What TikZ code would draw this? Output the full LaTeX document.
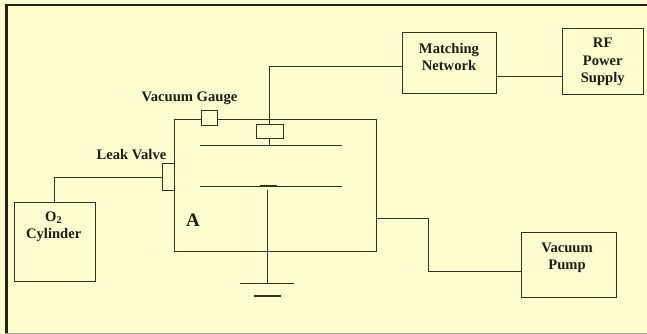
\documentclass[tikz,border=0pt]{standalone}
\usepackage{fontspec}
\setmainfont{Liberation Serif}
\definecolor{paper}{HTML}{FFFDD0}
\definecolor{ink}{HTML}{35331F}
\definecolor{textc}{HTML}{1E1D12}
\definecolor{framec}{HTML}{222218}
\tikzset{
 unit/.style={draw=ink,line width=1pt,inner sep=0pt,anchor=north west},
 wire/.style={draw=ink,line width=0.9pt},
 plate/.style={draw=ink,line width=0.9pt},
 lbl/.style={text=textc,font=\bfseries\fontsize{14.6}{17.4}\selectfont,align=center,inner sep=0pt},
}
\newcommand{\boxat}[5]{\node[unit,minimum width=#4pt,minimum height=#5pt] (#1) at (#2,#3) {};}
\begin{document}
\begin{tikzpicture}[x=1pt,y=-1pt]
\useasboundingbox (0,0) rectangle (647,334);
\fill[paper] (0,0) rectangle (647,334);
% frame
\fill[framec] (5,4) rectangle (647,6.5);
\fill[framec] (5,4) rectangle (7.5,334);
\fill[gray!70!paper] (5,332.6) rectangle (647,334);
% boxes
\boxat{chamber}{174}{119}{202}{132}
\boxat{gauge}{201}{111}{15}{13.5}
\boxat{elec}{256}{124}{27}{14}
\boxat{valve}{162}{163}{12}{27}
\boxat{cyl}{14}{202}{81}{79}
\boxat{match}{402}{32}{94}{61}
\boxat{rf}{562}{28}{81}{66}
\boxat{pump}{521}{232}{95}{65}
\fill[paper] (gauge.north west) rectangle (gauge.south east);
\draw[unit] (gauge.north west) rectangle (gauge.south east);
% plates and coordinates
\coordinate (upL) at (200,145); \coordinate (upR) at (342,145);
\coordinate (loL) at (200,186); \coordinate (loR) at (342,186);
\coordinate (up) at (269,145);
\coordinate (lo) at (267.5,190);
\coordinate (gnd) at (267.5,283);
\coordinate (g1L) at (240,283); \coordinate (g1R) at (294,283);
\coordinate (g2L) at (254,296); \coordinate (g2R) at (281,296);
\draw[plate] (upL) -- (upR);
\draw[plate] (loL) -- (loR);
\draw[plate,line width=1.8pt] (260,186) -- (277,186);
\draw[plate] (g1L) -- (g1R);
\draw[plate,line width=1.1pt] (g2L) -- (g2R);
% connectors
\draw[wire,line width=1.2pt] (lo) -- (gnd);
\draw[wire] (elec.south -| up) -- (up);
\draw[wire] (match.west |- 0,66) -| (elec.north -| up);
\draw[wire] (match.east |- 0,76) -- (rf.west |- 0,76);
\draw[wire] (valve.west) -| (cyl.north -| 54,0);
\draw[wire] (chamber.east |- 0,218) -- (428,218) -- (428,271) -- (pump.west |- 0,271);
% labels
\node[lbl] (tg) at (189.5,98.5) {Vacuum Gauge};
\node[lbl] (tv) at (131.5,155) {Leak Valve};
\node[lbl,font=\bfseries\fontsize{19}{21}\selectfont] (ta) at (193,220.5) {A};
\node[lbl] (t1) at (53.7,227) {O\textsubscript{2}\\Cylinder};
\node[lbl] (t2) at (449,57) {Matching\\Network};
\node[lbl] (t3) at (602.7,62) {RF\\Power\\Supply};
\node[lbl] (t4) at (567,257.5) {Vacuum\\Pump};
\end{tikzpicture}
\end{document}
